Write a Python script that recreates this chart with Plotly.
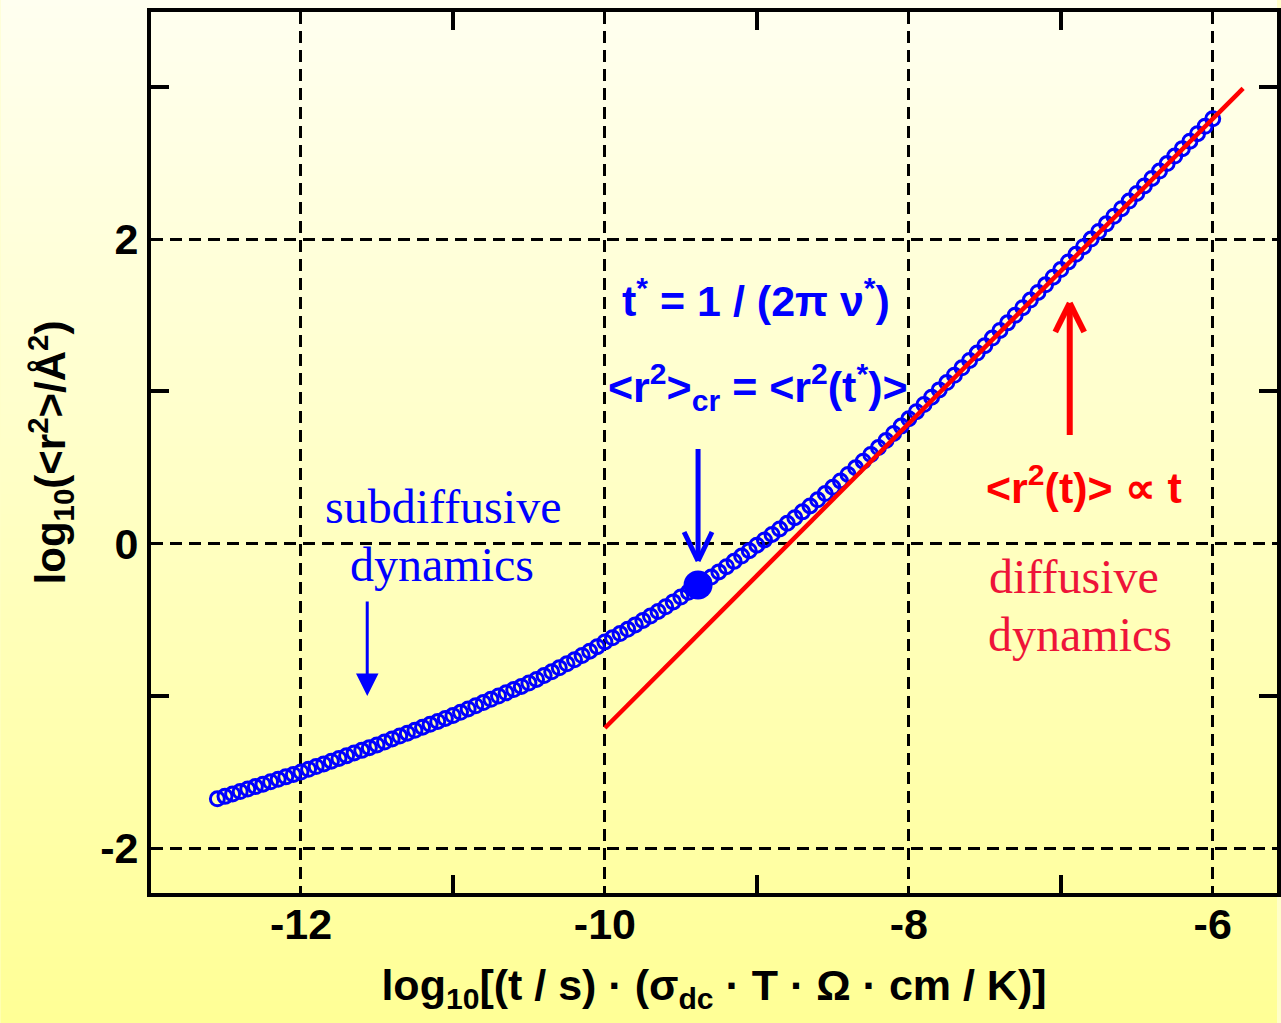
import base64
import struct
import zlib

import plotly.graph_objects as go

# ---------------- data ----------------
LOG_T = [
    -12.55, -12.50, -12.45, -12.40, -12.35, -12.30, -12.25, -12.20, -12.15, -12.10, -12.05, -12.00,
    -11.95, -11.90, -11.85, -11.80, -11.75, -11.70, -11.65, -11.60, -11.55, -11.50,
    -11.45, -11.40, -11.35, -11.30, -11.25, -11.20, -11.15, -11.10, -11.05, -11.00,
    -10.95, -10.90, -10.85, -10.80, -10.75, -10.70, -10.65, -10.60, -10.55, -10.50,
    -10.45, -10.40, -10.35, -10.30, -10.25, -10.20, -10.15, -10.10, -10.05, -10.00,
    -9.95, -9.90, -9.85, -9.80, -9.75, -9.70, -9.65, -9.60, -9.55, -9.50,
    -9.45, -9.40, -9.35, -9.30, -9.25, -9.20, -9.15, -9.10, -9.05, -9.00,
    -8.95, -8.90, -8.85, -8.80, -8.75, -8.70, -8.65, -8.60, -8.55, -8.50,
    -8.45, -8.40, -8.35, -8.30, -8.25, -8.20, -8.15, -8.10, -8.05, -8.00,
    -7.95, -7.90, -7.85, -7.80, -7.75, -7.70, -7.65, -7.60, -7.55, -7.50,
    -7.45, -7.40, -7.35, -7.30, -7.25, -7.20, -7.15, -7.10, -7.05, -7.00,
    -6.95, -6.90, -6.85, -6.80, -6.75, -6.70, -6.65, -6.60, -6.55, -6.50,
    -6.45, -6.40, -6.35, -6.30, -6.25, -6.20, -6.15, -6.10, -6.05, -6.00,
]
LOG_R2 = [
    -1.675, -1.659, -1.643, -1.627, -1.611, -1.595, -1.579, -1.563, -1.547, -1.531, -1.515, -1.499,
    -1.481, -1.463, -1.446, -1.428, -1.410, -1.392, -1.374, -1.357, -1.339, -1.321,
    -1.302, -1.282, -1.263, -1.244, -1.225, -1.205, -1.186, -1.167, -1.147, -1.128,
    -1.107, -1.085, -1.064, -1.043, -1.022, -1.000, -0.979, -0.958, -0.937, -0.915,
    -0.891, -0.866, -0.841, -0.815, -0.789, -0.762, -0.734, -0.706, -0.676, -0.645,
    -0.618, -0.590, -0.562, -0.533, -0.504, -0.475, -0.445, -0.414, -0.382, -0.350,
    -0.318, -0.286, -0.253, -0.219, -0.185, -0.151, -0.116, -0.081, -0.046, -0.010,
    0.025, 0.061, 0.097, 0.134, 0.171, 0.209, 0.248, 0.288, 0.329, 0.370,
    0.412, 0.455, 0.498, 0.542, 0.586, 0.631, 0.677, 0.724, 0.772, 0.820,
    0.867, 0.914, 0.962, 1.010, 1.058, 1.106, 1.155, 1.203, 1.252, 1.300,
    1.350, 1.400, 1.450, 1.500, 1.550, 1.600, 1.650, 1.700, 1.750, 1.800,
    1.850, 1.900, 1.950, 2.000, 2.050, 2.100, 2.150, 2.200, 2.250, 2.300,
    2.349, 2.398, 2.447, 2.496, 2.545, 2.594, 2.643, 2.692, 2.741, 2.790,
]
# crossover point t*
CR_T = [-9.387]
CR_R2 = [-0.271]
# diffusive limit  <r^2> ~ t
DIFF_T = [-10.0, -5.8]
DIFF_R2 = [-1.21, 2.99]

X_TICKS = [-12, -10, -8, -6]
X_TICKTEXT = ["-12", "-10", "-8", "-6"]
X_MINOR = [-11, -9, -7]
Y_TICKS = [-2, 0, 2]
Y_TICKTEXT = ["-2", "0", "2"]
Y_MINOR = [-1, 1, 3]

# ---------------- helpers ----------------
BLUE = "#0000ff"
RED = "#ff0000"
SERIF_RED = "#ee1438"
SANS = "Liberation Sans"
SERIF = "Liberation Serif"


def px_x(p):
    return -12 + (p - 301.5) / 152.5


def px_y(p):
    return (543.7 - p) / 152.3


def gradient_png(h, top, bottom):
    raw = b""
    for i in range(h):
        t = i / (h - 1)
        c = bytes(round(top[k] + (bottom[k] - top[k]) * t) for k in range(3))
        raw += b"\x00" + c + c

    def chunk(tag, data):
        return (struct.pack(">I", len(data)) + tag + data
                + struct.pack(">I", zlib.crc32(tag + data) & 0xFFFFFFFF))

    ihdr = struct.pack(">IIBBBBB", 2, h, 8, 2, 0, 0, 0)
    png = (b"\x89PNG\r\n\x1a\n" + chunk(b"IHDR", ihdr)
           + chunk(b"IDAT", zlib.compress(raw)) + chunk(b"IEND", b""))
    return "data:image/png;base64," + base64.b64encode(png).decode()


W, H = 1281, 1023
ML, MR, MT, MB = 151, 0, 12, 130
PW, PH = W - ML - MR, H - MT - MB

fig = go.Figure()
fig.add_trace(go.Scatter(
    x=LOG_T, y=LOG_R2, mode="markers",
    marker=dict(symbol="circle-open", size=14, color=BLUE, line=dict(width=3, color=BLUE)),
    showlegend=False, hoverinfo="skip"))
fig.add_trace(go.Scatter(
    x=DIFF_T, y=DIFF_R2, mode="lines", line=dict(color=RED, width=4.5),
    showlegend=False, hoverinfo="skip"))
fig.add_trace(go.Scatter(
    x=CR_T, y=CR_R2, mode="markers",
    marker=dict(symbol="circle", size=29, color=BLUE),
    showlegend=False, hoverinfo="skip"))

grid = dict(showgrid=True, gridcolor="black", gridwidth=2.5, griddash="12px,7px",
            zeroline=False, showline=True, linecolor="black", linewidth=4,
            mirror="allticks", ticks="",
            tickfont=dict(family=SANS, size=43, color="black", weight="bold"))

fig.update_layout(
    width=W, height=H,
    margin=dict(l=ML, r=MR, t=MT, b=MB),
    paper_bgcolor="#ffffc8",
    plot_bgcolor="rgba(0,0,0,0)",
    xaxis=dict(range=[px_x(ML), px_x(W - MR)], tickmode="array",
               tickvals=X_TICKS, ticktext=X_TICKTEXT, ticklabelstandoff=-10,
               minor=dict(tickvals=X_MINOR, ticks="inside", ticklen=18, tickwidth=4,
                          tickcolor="black", showgrid=False),
               title=dict(text="log<sub>10</sub>[(t / s) · (σ<sub>dc</sub> · T · Ω · cm / K)]",
                          font=dict(family=SANS, size=43, color="black", weight="bold"),
                          standoff=24),
               **grid),
    yaxis=dict(range=[px_y(H - MB), px_y(MT)], tickmode="array",
               tickvals=Y_TICKS, ticktext=Y_TICKTEXT, ticklabelstandoff=0,
               minor=dict(tickvals=Y_MINOR, ticks="inside", ticklen=18, tickwidth=4,
                          tickcolor="black", showgrid=False),
               title=dict(text="log<sub>10</sub>(&lt;r<sup>2</sup>&gt;/Å<sup>2</sup>)",
                          font=dict(family=SANS, size=42, color="black", weight="bold"),
                          standoff=22),
               **grid),
    images=[dict(source=gradient_png(256, (255, 255, 240), (255, 255, 150)),
                 xref="paper", yref="paper", x=-ML / PW, y=1 + MT / PH,
                 sizex=W / PW, sizey=H / PH, sizing="stretch",
                 xanchor="left", yanchor="top", layer="below")],
)

sans_blue = dict(family=SANS, size=43, color=BLUE, weight="bold")
sans_red = dict(family=SANS, size=43, color=RED, weight="bold")
serif_blue = dict(family=SERIF, size=48, color=BLUE)
serif_red = dict(family=SERIF, size=48, color=SERIF_RED)

annots = [
    ("t<sup>*</sup> = 1 / (2π ν<sup>*</sup>)", 758, 298, sans_blue),
    ("&lt;r<sup>2</sup>&gt;<sub>cr</sub> = &lt;r<sup>2</sup>(t<sup>*</sup>)&gt;", 760, 387, sans_blue),
    ("&lt;r<sup>2</sup>(t)&gt; ∝ t", 1087, 485, sans_red),
    ("subdiffusive", 444, 506, serif_blue),
    ("dynamics", 443, 564, serif_blue),
    ("diffusive", 1077, 576, serif_red),
    ("dynamics", 1083, 634, serif_red),
]
for text, px, py, font in annots:
    fig.add_annotation(x=px_x(px), y=px_y(py), text=text, showarrow=False,
                       font=font, xanchor="center", yanchor="middle")

# thin arrow with filled head (subdiffusive)
fig.add_annotation(x=px_x(368), y=px_y(696), ax=0, ay=-96, text="", showarrow=True,
                   arrowhead=2, arrowsize=1.5, arrowwidth=3, arrowcolor=BLUE)

# open-headed arrows
def open_arrow(xp, y_tail, y_tip, half, head, color, width):
    d = -1 if y_tip < y_tail else 1
    segs = [((xp, y_tail), (xp, y_tip - d * 2)),
            ((xp - half, y_tip - d * head), (xp, y_tip)),
            ((xp + half, y_tip - d * head), (xp, y_tip))]
    for (x0, y0), (x1, y1) in segs:
        fig.add_shape(type="line", xref="x", yref="y",
                      x0=px_x(x0), y0=px_y(y0), x1=px_x(x1), y1=px_y(y1),
                      line=dict(color=color, width=width), layer="above")

open_arrow(700, 449, 561, 14, 29, BLUE, 5)
open_arrow(1073, 435, 303, 14.5, 29, RED, 6)

fig.write_html("out.html")
